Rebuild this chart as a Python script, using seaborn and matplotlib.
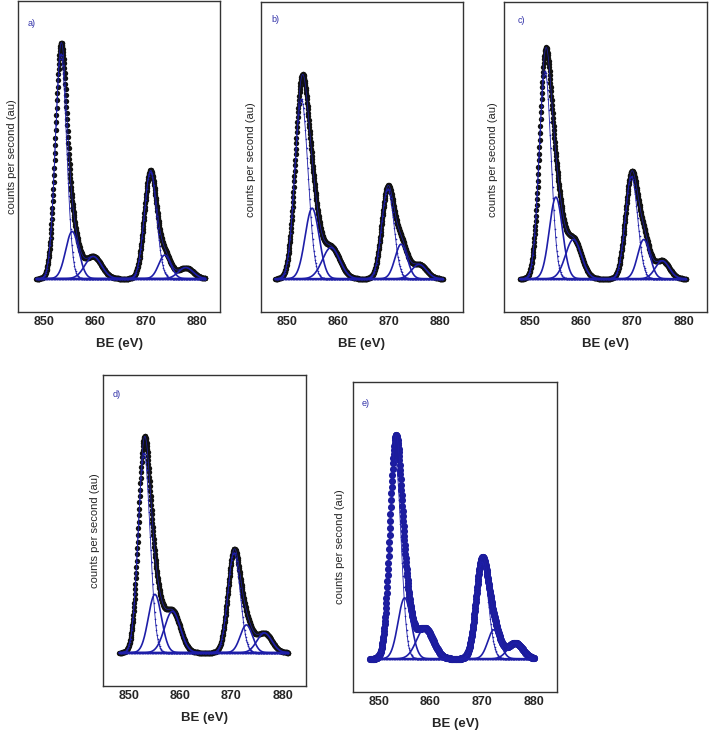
import numpy as np
import matplotlib
matplotlib.use("Agg")
import matplotlib.pyplot as plt
import seaborn as sns

# Ni 2p : composantes lues sur la figure
# ordre : 2p3/2, sat. 1, sat. 2, 2p1/2, sat. 1, sat. 2
# centres en eV, hauteurs en u.a., largeurs = FWHM en eV
centres_a = [853.4, 855.6, 859.7, 870.9, 873.7, 877.8]
hauteurs_a = [0.81, 0.17, 0.08, 0.385, 0.085, 0.04]
largeurs_a = [2.6, 3.0, 3.8, 2.8, 2.8, 3.4]
plage_a = [848.6, 881.7]

centres_b = [852.9, 855.0, 858.7, 869.8, 872.4, 875.9]
hauteurs_b = [0.65, 0.255, 0.113, 0.325, 0.125, 0.052]
largeurs_b = [3.0, 3.2, 4.0, 2.8, 2.8, 3.4]
plage_b = [847.8, 880.6]

centres_c = [853.0, 855.1, 858.5, 869.8, 872.2, 875.8]
hauteurs_c = [0.75, 0.295, 0.142, 0.37, 0.142, 0.065]
largeurs_c = [2.7, 3.0, 3.6, 2.8, 2.8, 3.2]
plage_c = [848.1, 880.5]

centres_d = [853.0, 855.1, 858.5, 870.5, 872.9, 876.4]
hauteurs_d = [0.72, 0.21, 0.149, 0.36, 0.10, 0.071]
largeurs_d = [2.7, 3.0, 3.6, 2.8, 2.8, 3.4]
plage_d = [848.2, 881.1]

centres_e = [853.2, 855.0, 858.9, 870.0, 872.3, 876.4]
hauteurs_e = [0.72, 0.22, 0.11, 0.35, 0.105, 0.057]
largeurs_e = [2.6, 3.0, 3.8, 2.8, 2.8, 3.4]
plage_e = [848.3, 880.1]

etiquettes = ["a)", "b)", "c)", "d)", "e)"]
bleu = "#1e1ea8"

# position des cadres en pixels : gauche, haut, largeur, hauteur
cadres = [(18, 1, 202, 311), (261, 2, 202, 310), (504, 2, 203, 310),
          (103, 375, 203, 311), (353, 382, 204, 310)]
pos_ylabel = [(-0.007, 0.50), (-0.027, 0.49), (-0.032, 0.49), (-0.015, 0.50), (-0.037, 0.47)]
pos_lettre = [(0.069, 0.929), (0.07, 0.945), (0.084, 0.939), (0.066, 0.936), (0.064, 0.932)]

panneaux = [
    (centres_a, hauteurs_a, largeurs_a, plage_a),
    (centres_b, hauteurs_b, largeurs_b, plage_b),
    (centres_c, hauteurs_c, largeurs_c, plage_c),
    (centres_d, hauteurs_d, largeurs_d, plage_d),
    (centres_e, hauteurs_e, largeurs_e, plage_e),
]


def gauss(x, c, h, f):
    return h * np.exp(-4 * np.log(2) * (x - c) ** 2 / f ** 2)


sns.set_style("white")
plt.rcParams["font.family"] = ["Liberation Sans", "DejaVu Sans"]

W, H = 709, 735
fig = plt.figure(figsize=(W / 100, H / 100), dpi=100)

for i, (centres, hauteurs, largeurs, plage) in enumerate(panneaux):
    l, t, w, h = cadres[i]
    ax = fig.add_axes([l / W, 1 - (t + h) / H, w / W, h / H])

    be = np.arange(plage[0], plage[1], 0.06)
    comps = [gauss(be, c, hh, f) for c, hh, f in zip(centres, hauteurs, largeurs)]
    total = np.sum(comps, axis=0)

    # points mesurés
    if i == 4:
        sns.scatterplot(x=be, y=total, ax=ax, s=26, color="#1c1c9c", linewidth=0, legend=False, zorder=2)
    else:
        sns.scatterplot(x=be, y=total, ax=ax, s=15, color="#111111", linewidth=0, legend=False, zorder=2)

    # ligne de base
    ax.plot([plage[0], plage[1]], [0, 0], color="#b5b5b5", lw=1.5, zorder=1)

    # composantes
    for k, comp in enumerate(comps):
        if k in (0, 3):
            sns.lineplot(x=be[::2], y=comp[::2], ax=ax, color=bleu, lw=0.6, marker="o", markersize=1.2,
                         markeredgewidth=0, estimator=None, sort=False, zorder=3)
        else:
            sns.lineplot(x=be, y=comp, ax=ax, color=bleu, lw=1.2, estimator=None, sort=False, zorder=3)

    # enveloppe
    sns.lineplot(x=be, y=total, ax=ax, color=bleu, lw=0.5, estimator=None, sort=False, zorder=4)

    ax.set_xlim(845, 884.5)
    ax.set_ylim(-0.12, 1.0)
    ax.set_xticks([850, 860, 870, 880])
    ax.set_xticks([855, 865, 875], minor=True)
    ax.set_yticks([])
    ax.tick_params(axis="x", which="major", direction="in", length=3.3, width=0.8,
                   labelsize=9, pad=3.0, color="#333333")
    ax.tick_params(axis="x", which="minor", direction="in", length=1.8, width=0.8, color="#333333")
    for lab in ax.get_xticklabels():
        lab.set_fontweight("bold")

    for sp in ax.spines.values():
        sp.set_visible(True)
        sp.set_color("#333333")
        sp.set_linewidth(1.0)

    ax.set_xlabel("BE (eV)", fontsize=9.5, fontweight="bold")
    ax.xaxis.set_label_coords(0.5, -0.084)
    ax.set_ylabel("counts per second (au)", fontsize=8)
    ax.yaxis.set_label_coords(*pos_ylabel[i])

    ax.text(pos_lettre[i][0], pos_lettre[i][1], etiquettes[i], transform=ax.transAxes,
            fontsize=6.5, color="#3030a8", ha="center", va="center")

plt.savefig("out.png", dpi=100)
